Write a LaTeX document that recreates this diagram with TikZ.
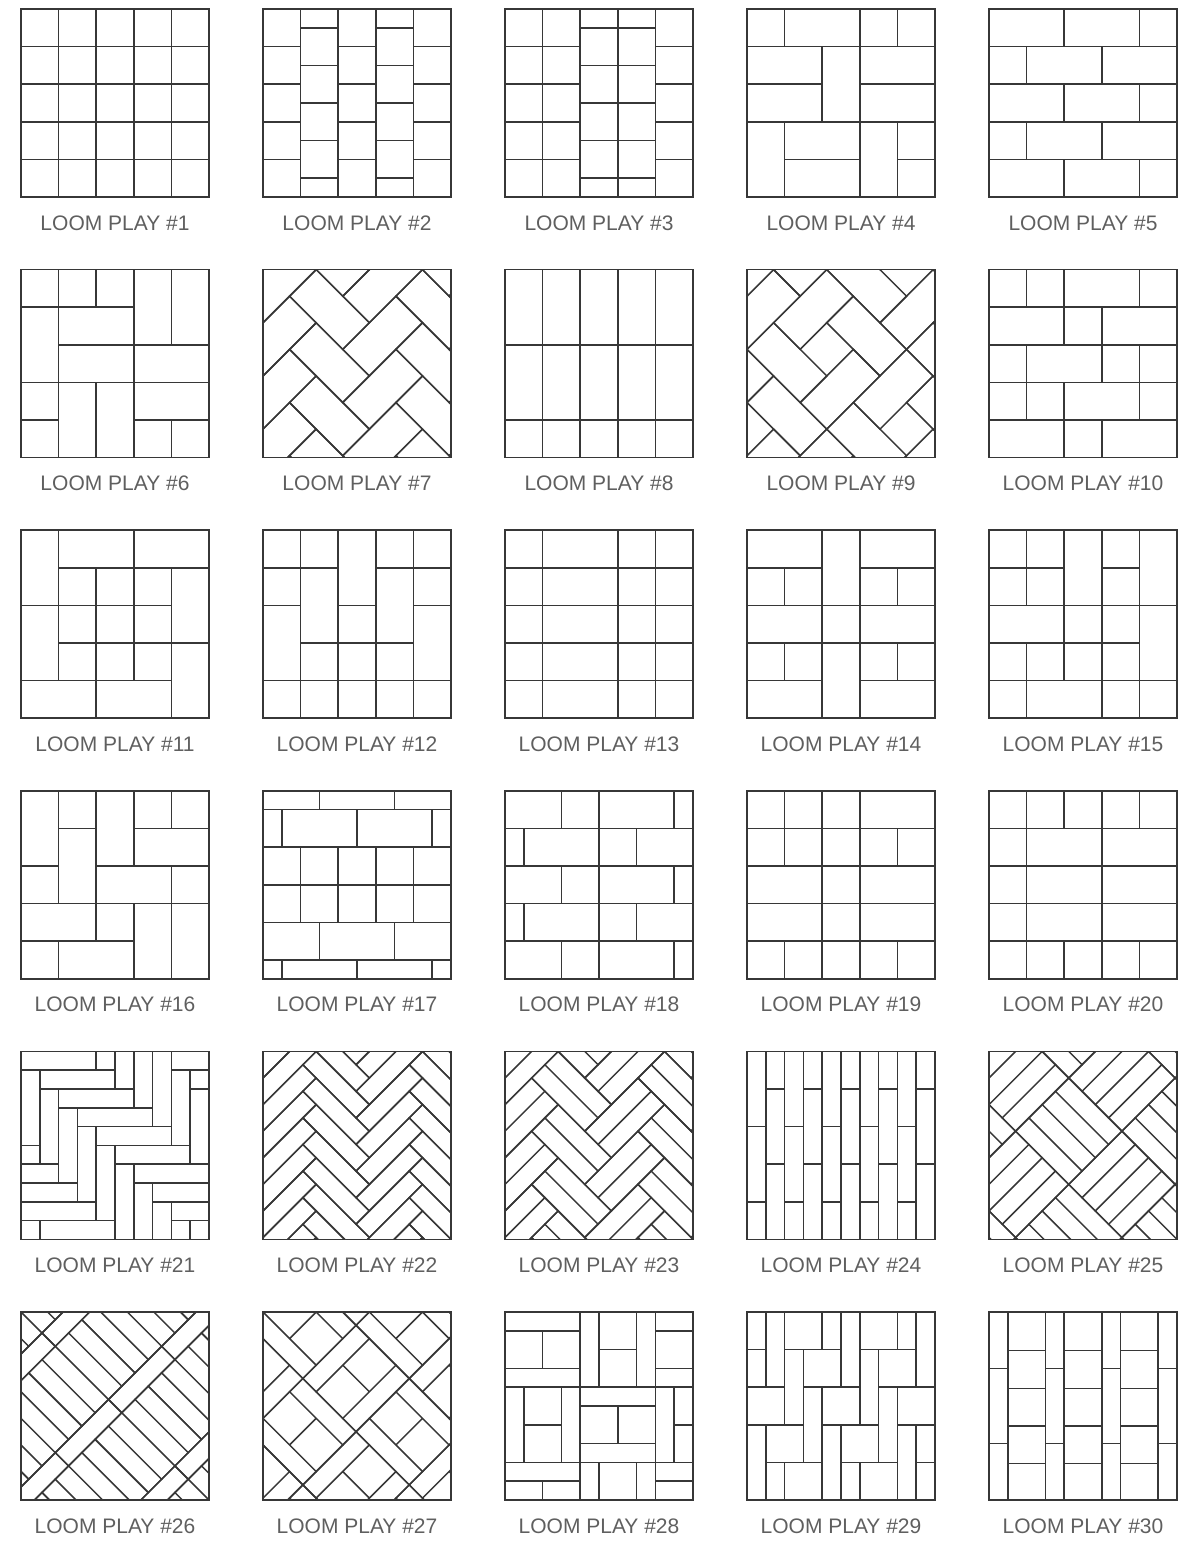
\documentclass[tikz,border=0pt]{standalone}
\usepackage{fontspec}
\setmainfont{Liberation Sans}
\definecolor{ln}{RGB}{55,55,55}
\definecolor{labc}{RGB}{95,95,95}
\tikzset{
  tl/.style={draw=ln,line width=1.5pt,line cap=rect},
  lab/.style={font=\fontsize{21}{24}\selectfont,text=labc,anchor=base,inner sep=0pt},
  dg/.style={cm={0.70711,-0.70711,-0.70711,-0.70711,(0,0)}},
  hb/.style={cm={0.70711,0.70711,0.70711,-0.70711,(0,0)}}
}
\newcommand\Sq[4]{%
  \pgfmathsetmacro\sqx{21+242*#1}%
  \pgfmathsetmacro\sqy{9+260.6*#2}%
  \begin{scope}[shift={(\sqx pt,-\sqy pt)},x=37.6pt,y=-37.6pt]
    \begin{scope}
      \clip (0,0) rectangle (5,5);
      #4
    \end{scope}
    \draw[tl] (0,0) rectangle (5,5);
    \node[lab] (L#3) at (2.5,5.878) {LOOM PLAY \##3};
  \end{scope}}
% herringbone: a, r, p0, q0, kmin, kmax, nmin, nmax
\newcommand\herring[8]{%
  \foreach \n in {#7,...,#8}{%
    \foreach \k in {#5,...,#6}{%
      \draw[tl] ({#3+#1*((\k)+(\n)*#2)},{#4+#1*((\k)-(\n)*#2)}) rectangle ++({#1*#2},{#1});
      \draw[tl] ({#3+#1*((\k)+#2+(\n)*#2)},{#4+#1*((\k)-#2+1-(\n)*#2)}) rectangle ++({#1},{#1*#2});
    }}}
% lengthwise split lines of the herringbone tiles
\newcommand\herringmid[8]{%
  \foreach \n in {#7,...,#8}{%
    \foreach \k in {#5,...,#6}{%
      \draw[tl] ({#3+#1*((\k)+(\n)*#2)},{#4+#1*((\k)+0.5-(\n)*#2)}) --++({#1*#2},0);
      \draw[tl] ({#3+#1*((\k)+#2+0.5+(\n)*#2)},{#4+#1*((\k)-#2+1-(\n)*#2)}) --++(0,{#1*#2});
    }}}
% 2x2 blocks: A = strip, two squares, strip ; B = the same turned
\newcommand\weave[2]{%
  \foreach \i in {-2,...,4}{\foreach \j in {-3,...,3}{%
    \pgfmathsetmacro\bx{#1+2*(\i)}\pgfmathsetmacro\by{#2+2*(\j)}%
    \pgfmathtruncatemacro\bwp{mod(\i+\j+40,2)}%
    \draw[tl] (\bx,\by) rectangle ++(2,2);
    \ifnum\bwp=0
      \draw[tl] (\bx,\by+0.5)--++(2,0) (\bx,\by+1.5)--++(2,0) (\bx+1,\by+0.5)--++(0,1);
    \else
      \draw[tl] (\bx+0.5,\by)--++(0,2) (\bx+1.5,\by)--++(0,2) (\bx+0.5,\by+1)--++(1,0);
    \fi}}}
% basketweave of 2x2 blocks of four planks
\newcommand\basket{%
  \foreach \i in {-1,...,4}{\foreach \j in {-3,...,2}{%
    \pgfmathsetmacro\bx{2*(\i)}\pgfmathsetmacro\by{-1+2*(\j)}%
    \pgfmathtruncatemacro\bwp{mod(\i+\j+40,2)}%
    \draw[tl] (\bx,\by) rectangle ++(2,2);
    \ifnum\bwp=1
      \draw[tl] (\bx,\by+0.5)--++(2,0) (\bx,\by+1)--++(2,0) (\bx,\by+1.5)--++(2,0);
    \else
      \draw[tl] (\bx+0.5,\by)--++(0,2) (\bx+1,\by)--++(0,2) (\bx+1.5,\by)--++(0,2);
    \fi}}}
% strips of single planks between blocks of four planks
\newcommand\plaid{%
  \foreach \i in {-1,...,3}{\foreach \j in {-3,...,2}{%
    \pgfmathsetmacro\sx{0.79+2.5*(\i)}\pgfmathsetmacro\ty{2*(\j)}%
    \draw[tl] (\sx,\ty) rectangle ++(0.5,2);
    \draw[tl] (\sx+0.5,\ty+1) rectangle ++(2,2);
    \draw[tl] (\sx+0.5,\ty+1.5)--++(2,0) (\sx+0.5,\ty+2)--++(2,0) (\sx+0.5,\ty+2.5)--++(2,0);
  }}}
\begin{document}
\begin{tikzpicture}[x=1pt,y=-1pt]
\useasboundingbox (0,0) rectangle (1187,1542);
% ---------- row 1
\Sq{0}{0}{1}{\draw[tl] \foreach \i in {1,...,4}{(\i,0)--(\i,5) (0,\i)--(5,\i)};}
\Sq{1}{0}{2}{\draw[tl] \foreach \i in {1,...,4}{(\i,0)--(\i,5) (0,\i)--(1,\i) (2,\i)--(3,\i) (4,\i)--(5,\i)} \foreach \j in {0.5,1.5,...,4.5}{(1,\j)--(2,\j) (3,\j)--(4,\j)};}
\Sq{2}{0}{3}{\draw[tl] \foreach \i in {1,...,4}{(\i,0)--(\i,5) (0,\i)--(2,\i) (4,\i)--(5,\i)} \foreach \j in {0.5,1.5,...,4.5}{(2,\j)--(4,\j)};}
\Sq{3}{0}{4}{\draw[tl] (0,1)--(5,1) (0,3)--(5,3) (0,2)--(2,2) (3,2)--(5,2) (1,4)--(3,4) (4,4)--(5,4) (1,0)--(1,1) (1,3)--(1,5) (2,1)--(2,3) (3,0)--(3,5) (4,0)--(4,1) (4,3)--(4,5);}
\Sq{4}{0}{5}{\draw[tl] \foreach \i in {1,...,4}{(0,\i)--(5,\i)} \foreach \r in {0,2,4}{(2,\r)--++(0,1) (4,\r)--++(0,1)} \foreach \r in {1,3}{(1,\r)--++(0,1) (3,\r)--++(0,1)};}
% ---------- row 2
\Sq{0}{1}{6}{\draw[tl] (1,0)--(1,5) (2,0)--(2,1) (2,3)--(2,5) (3,0)--(3,5) (4,0)--(4,2) (4,4)--(4,5) (0,1)--(3,1) (1,2)--(5,2) (0,3)--(5,3) (0,4)--(1,4) (3,4)--(5,4);}
\Sq{1}{1}{7}{\begin{scope}[hb]\herring{1}{2}{0}{0}{-10}{4}{-3}{4}\end{scope}}
\Sq{2}{1}{8}{\draw[tl] \foreach \i in {1,...,4}{(\i,0)--(\i,5)} (0,2)--(5,2) (0,4)--(5,4);}
\Sq{3}{1}{9}{\begin{scope}[dg]
  \foreach \i in {-2,...,2}{\foreach \j in {-2,...,2}{
    \draw[tl] ({1.5+3*(\i)},{-1.5+3*(\j)}) rectangle ++(2,1);
    \draw[tl] ({3.5+3*(\i)},{-1.5+3*(\j)}) rectangle ++(1,2);
    \draw[tl] ({2.5+3*(\i)},{0.5+3*(\j)}) rectangle ++(2,1);
    \draw[tl] ({1.5+3*(\i)},{-0.5+3*(\j)}) rectangle ++(1,2);
  }}\end{scope}}
\Sq{4}{1}{10}{\draw[tl] \foreach \i in {1,...,4}{(0,\i)--(5,\i)} (1,0)--(1,1) (2,0)--(2,1) (4,0)--(4,1) (2,1)--(2,2) (3,1)--(3,2) (1,2)--(1,3) (3,2)--(3,3) (4,2)--(4,3) (1,3)--(1,4) (2,3)--(2,4) (4,3)--(4,4) (2,4)--(2,5) (3,4)--(3,5);}
% ---------- row 3
\Sq{0}{2}{11}{\draw[tl] (1,0)--(1,4) (2,1)--(2,5) (3,0)--(3,4) (4,1)--(4,5) (1,1)--(5,1) (0,2)--(4,2) (1,3)--(5,3) (0,4)--(4,4);}
\Sq{1}{2}{12}{\draw[tl] \foreach \i in {1,...,4}{(\i,0)--(\i,5)} (0,1)--(2,1) (3,1)--(5,1) (0,2)--(1,2) (2,2)--(3,2) (4,2)--(5,2) (1,3)--(4,3) (0,4)--(5,4);}
\Sq{2}{2}{13}{\draw[tl] (1,0)--(1,5) (3,0)--(3,5) (4,0)--(4,5) \foreach \i in {1,...,4}{(0,\i)--(5,\i)};}
\Sq{3}{2}{14}{\draw[tl] (1,1)--(1,2) (1,3)--(1,4) (2,0)--(2,5) (3,0)--(3,5) (4,1)--(4,2) (4,3)--(4,4) (0,1)--(2,1) (3,1)--(5,1) (0,2)--(5,2) (0,3)--(5,3) (0,4)--(2,4) (3,4)--(5,4);}
\Sq{4}{2}{15}{\draw[tl] (1,0)--(1,2) (1,3)--(1,5) (2,0)--(2,4) (3,0)--(3,5) (4,0)--(4,5) (0,1)--(2,1) (3,1)--(4,1) (0,2)--(5,2) (0,3)--(4,3) (0,4)--(5,4);}
% ---------- row 4
\Sq{0}{3}{16}{\draw[tl] (1,0)--(1,3) (1,4)--(1,5) (2,0)--(2,4) (3,0)--(3,2) (3,3)--(3,5) (4,0)--(4,1) (4,2)--(4,5) (1,1)--(2,1) (3,1)--(5,1) (0,2)--(1,2) (2,2)--(5,2) (0,3)--(5,3) (0,4)--(3,4);}
\Sq{1}{3}{17}{\draw[tl] \foreach \j in {0.5,1.5,...,4.5}{(0,\j)--(5,\j)} (1.5,0)--(1.5,0.5) (3.5,0)--(3.5,0.5) \foreach \x in {0.5,2.5,4.5}{(\x,0.5)--(\x,1.5) (\x,4.5)--(\x,5)} \foreach \x in {1,...,4}{(\x,1.5)--(\x,3.5)} (1.5,3.5)--(1.5,4.5) (3.5,3.5)--(3.5,4.5);}
\Sq{2}{3}{18}{\draw[tl] \foreach \i in {1,...,4}{(0,\i)--(5,\i)} \foreach \r in {0,2,4}{(1.5,\r)--++(0,1) (4.5,\r)--++(0,1)} \foreach \r in {1,3}{(0.5,\r)--++(0,1) (3.5,\r)--++(0,1)} (2.5,0)--(2.5,5);}
\Sq{3}{3}{19}{\draw[tl] \foreach \i in {1,...,4}{(0,\i)--(5,\i)} (1,0)--(1,2) (2,0)--(2,5) (3,0)--(3,5) (4,1)--(4,2) (1,4)--(1,5) (4,4)--(4,5);}
\Sq{4}{3}{20}{\draw[tl] \foreach \i in {1,...,4}{(0,\i)--(5,\i)} (1,0)--(1,5) (3,0)--(3,5) (2,0)--(2,1) (4,0)--(4,1) (2,4)--(2,5) (4,4)--(4,5);}
% ---------- row 5
\Sq{0}{4}{21}{\herring{0.5}{4}{0}{0}{-6}{12}{-3}{3}}
\Sq{1}{4}{22}{\begin{scope}[hb]\herring{0.5}{4}{0}{0}{-14}{4}{-3}{4}\end{scope}}
\Sq{2}{4}{23}{\begin{scope}[hb]\herring{1}{2}{0}{0}{-10}{4}{-3}{4}\herringmid{1}{2}{0}{0}{-10}{4}{-3}{4}\end{scope}}
\Sq{3}{4}{24}{\draw[tl] \foreach \x in {0.5,1,...,4.5}{(\x,0)--(\x,5)} \foreach \x in {0,1,...,4}{(\x,2)--++(0.5,0) (\x,4)--++(0.5,0)} \foreach \x in {0.5,1.5,...,4.5}{(\x,1)--++(0.5,0) (\x,3)--++(0.5,0)};}
\Sq{4}{4}{25}{\begin{scope}[dg]\basket\end{scope}}
% ---------- row 6
\Sq{0}{5}{26}{\begin{scope}[dg]\plaid\end{scope}}
\Sq{1}{5}{27}{\begin{scope}[dg]\weave{0}{-0.5}\end{scope}}
\Sq{2}{5}{28}{\weave{0}{0}}
\Sq{3}{5}{29}{\foreach \r in {0,...,4}{\foreach \k in {-2,...,2}{\draw[tl] ({1+0.5*(\r)+2*(\k)},\r) rectangle ++(1,1);}}
  \foreach \r in {-1,...,4}{\foreach \k in {-2,...,2}{\draw[tl] ({0.5+0.5*(\r)+2*(\k)},\r) rectangle ++(0.5,2);}}}
\Sq{4}{5}{30}{\draw[tl] \foreach \x in {0.5,1.5,2,3,3.5,4.5}{(\x,0)--(\x,5)} \foreach \x in {0,1.5,3,4.5}{(\x,1.5)--++(0.5,0) (\x,3.5)--++(0.5,0)} \foreach \x in {0.5,2,3.5}{(\x,1.03)--++(1,0) (\x,2.03)--++(1,0) (\x,3.03)--++(1,0) (\x,4.03)--++(1,0)};}
\end{tikzpicture}
\end{document}
